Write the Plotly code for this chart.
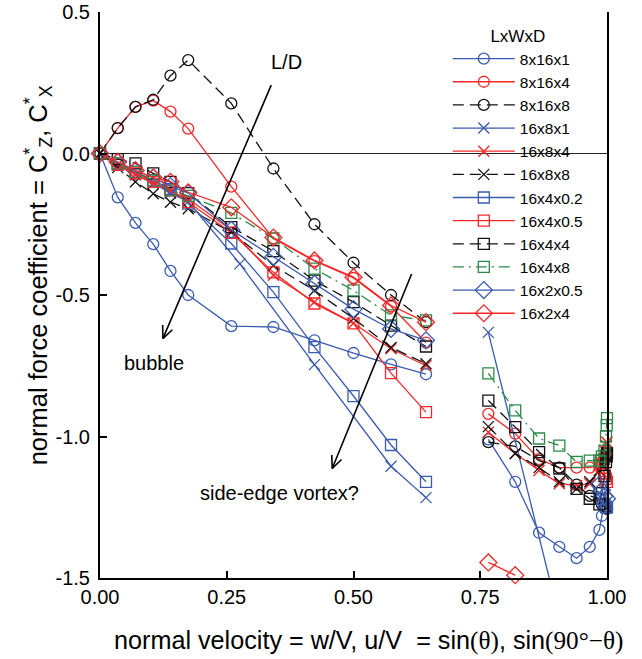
import math
import plotly.graph_objects as go

# ---------------- data ----------------
X_LEFT = [0, 0.035, 0.070, 0.105, 0.139, 0.174, 0.259, 0.342, 0.423, 0.500, 0.574, 0.643]
X_RIGHT = [0.766, 0.819, 0.866, 0.906, 0.940, 0.966, 0.985, 0.990, 0.995, 0.998, 0.9994, 1.0]
X_RIGHT_END = [0.985, 0.990, 0.995, 0.998, 1.0]

Y_8x16x1_L = [0, -0.155, -0.245, -0.32, -0.415, -0.50, -0.61, -0.613, -0.66, -0.705, -0.745, -0.78]
Y_8x16x1_R = [-1.01, -1.16, -1.34, -1.39, -1.43, -1.39, -1.33, -1.28, -1.25, -1.24, -1.25, -1.25]

Y_8x16x4_L = [0, 0.09, 0.165, 0.187, 0.148, 0.088, -0.117, -0.30, -0.38, -0.44, -0.54, -0.668]
Y_8x16x4_R = [-0.92, -0.99, -1.08, -1.11, -1.11, -1.11, -1.10, -1.09, -1.08, -1.07, -1.06, -1.05]

Y_8x16x8_L = [0, 0.09, 0.165, 0.19, 0.275, 0.33, 0.177, -0.053, -0.25, -0.386, -0.50, -0.596]
Y_8x16x8_R = [-1.02, -1.035, -1.085, -1.11, -1.17, -1.21, -1.22, -1.24, -1.25, -1.25, -1.255, -1.255]

X_16x8x1_L = [0, 0.035, 0.070, 0.105, 0.139, 0.174, 0.276, 0.423, 0.574, 0.643]
Y_16x8x1_L = [0, -0.04, -0.075, -0.105, -0.14, -0.17, -0.39, -0.746, -1.105, -1.216]
X_16x8x1_R = [0.766, 0.940]
Y_16x8x1_R = [-0.632, -1.89]

Y_16x8x4_L = [0, -0.04, -0.075, -0.105, -0.135, -0.16, -0.27, -0.43, -0.525, -0.60, -0.69, -0.75]
Y_16x8x4_R = [-0.985, -1.06, -1.12, -1.167, -1.173, -1.167, -1.12, -1.08, -1.05, -1.03, -1.02, -1.02]

Y_16x8x8_L = [0, -0.05, -0.10, -0.142, -0.172, -0.195, -0.278, -0.396, -0.484, -0.583, -0.685, -0.743]
Y_16x8x8_R = [-0.965, -1.06, -1.11, -1.16, -1.185, -1.16, -1.12, -1.10, -1.08, -1.07, -1.06, -1.06]

Y_16x4x02_L = [0, -0.035, -0.065, -0.095, -0.125, -0.177, -0.318, -0.49, -0.684, -0.857, -1.03, -1.16]
Y_16x4x02_R = [-1.20, -1.22, -1.24, -1.25, -1.25]

Y_16x4x05_L = [0, -0.04, -0.07, -0.10, -0.13, -0.172, -0.28, -0.42, -0.53, -0.60, -0.776, -0.914]
Y_16x4x05_R = [-1.10, -1.11, -1.13, -1.15, -1.16]

Y_16x4x4_L = [0, -0.02, -0.035, -0.07, -0.10, -0.14, -0.26, -0.345, -0.449, -0.525, -0.608, -0.682]
Y_16x4x4_R = [-0.873, -0.967, -1.055, -1.113, -1.185, -1.22, -1.24, -1.20, -1.14, -1.09, -1.07, -1.06]

Y_16x4x8_L = [0, -0.035, -0.065, -0.095, -0.13, -0.15, -0.21, -0.30, -0.407, -0.484, -0.572, -0.59]
Y_16x4x8_R = [-0.777, -0.908, -1.007, -1.032, -1.09, -1.085, -1.085, -1.07, -1.05, -1.0, -0.96, -0.935]

Y_16x2x05_L = [0, -0.03, -0.06, -0.085, -0.115, -0.14, -0.27, -0.365, -0.46, -0.55, -0.62, -0.66]
X_16x2x05_R = [0.985, 0.990, 0.995, 1.0]
Y_16x2x05_R = [-1.17, -1.19, -1.21, -1.22]

Y_16x2x4_L = [0, -0.03, -0.06, -0.085, -0.10, -0.137, -0.19, -0.297, -0.378, -0.437, -0.537, -0.596]
X_16x2x4_R = [0.766, 0.819]
Y_16x2x4_R = [-1.445, -1.49]

X_TICKS = [0, 0.25, 0.5, 0.75, 1.0]
X_TICK_TEXT = ["0.00", "0.25", "0.50", "0.75", "1.00"]
Y_TICKS = [0.5, 0.0, -0.5, -1.0, -1.5]
Y_TICK_TEXT = ["0.5", "0.0", "-0.5", "-1.0", "-1.5"]

# ---------------- styles ----------------
BLUE = "#3a5bb0"
RED = "#f5282a"
BLACK = "#111111"
GREEN = "#2b8a48"
DASH = "11px,6px"
DASHDOT = "11px,5px,2px,5px"

series = [
    ("8x16x1", BLUE, "circle-open", "solid", X_LEFT, Y_8x16x1_L, X_RIGHT, Y_8x16x1_R, False),
    ("8x16x4", RED, "circle-open", "solid", X_LEFT, Y_8x16x4_L, X_RIGHT, Y_8x16x4_R, False),
    ("8x16x8", BLACK, "circle-open", DASH, X_LEFT, Y_8x16x8_L, X_RIGHT, Y_8x16x8_R, False),
    ("16x8x1", BLUE, "x-thin-open", "solid", X_16x8x1_L, Y_16x8x1_L, X_16x8x1_R, Y_16x8x1_R, True),
    ("16x8x4", RED, "x-thin-open", "solid", X_LEFT, Y_16x8x4_L, X_RIGHT, Y_16x8x4_R, False),
    ("16x8x8", BLACK, "x-thin-open", DASH, X_LEFT, Y_16x8x8_L, X_RIGHT, Y_16x8x8_R, False),
    ("16x4x0.2", BLUE, "square-open", "solid", X_LEFT, Y_16x4x02_L, X_RIGHT_END, Y_16x4x02_R, False),
    ("16x4x0.5", RED, "square-open", "solid", X_LEFT, Y_16x4x05_L, X_RIGHT_END, Y_16x4x05_R, False),
    ("16x4x4", BLACK, "square-open", DASH, X_LEFT, Y_16x4x4_L, X_RIGHT, Y_16x4x4_R, False),
    ("16x4x8", GREEN, "square-open", DASHDOT, X_LEFT, Y_16x4x8_L, X_RIGHT, Y_16x4x8_R, False),
    ("16x2x0.5", BLUE, "diamond-open", "solid", X_LEFT, Y_16x2x05_L, X_16x2x05_R, Y_16x2x05_R, False),
    ("16x2x4", RED, "diamond-open", "solid", X_LEFT, Y_16x2x4_L, X_16x2x4_R, Y_16x2x4_R, False),
]

fig = go.Figure()
for name, color, sym, dash, xl, yl, xr, yr, clip in series:
    size = 13 if sym.startswith("diamond") else 11
    fig.add_trace(go.Scatter(
        x=list(xl) + [None] + list(xr),
        y=list(yl) + [None] + list(yr),
        name=name, mode="lines+markers", connectgaps=False, cliponaxis=clip,
        line=dict(color=color, width=1.3, dash=dash),
        marker=dict(symbol=sym, size=size, color=color, line=dict(color=color, width=1.3)),
    ))

FONT = "Liberation Sans, Arial, sans-serif"
SERIF = "Liberation Serif"

annotations = []


def arrow(tip_x, tip_y, dx, dy):
    annotations.append(dict(x=tip_x, y=tip_y, xref="x", yref="y", ax=dx, ay=dy,
                            text="", showarrow=True, arrowhead=0, arrowwidth=1.6,
                            arrowcolor="black", standoff=0, startstandoff=0))
    L = math.hypot(dx, dy)
    ux, uy = dx / L, dy / L
    for ang in (24, -24):
        r = math.radians(ang)
        hx = ux * math.cos(r) - uy * math.sin(r)
        hy = ux * math.sin(r) + uy * math.cos(r)
        annotations.append(dict(x=tip_x, y=tip_y, xref="x", yref="y", ax=hx * 15, ay=hy * 15,
                                text="", showarrow=True, arrowhead=0, arrowwidth=1.6,
                                arrowcolor="black", standoff=0, startstandoff=0))


arrow(0.124, -0.654, 109, -255)
arrow(0.458, -1.113, 80, -196)

for txt, x, y in [("L/D", 0.367, 0.322), ("bubble", 0.107, -0.742), ("side-edge vortex?", 0.355, -1.198)]:
    annotations.append(dict(x=x, y=y, xref="x", yref="y", text=txt, showarrow=False,
                            font=dict(family=FONT, size=20, color="black")))

annotations.append(dict(
    x=-0.122, y=0.535, xref="paper", yref="paper", textangle=-90, showarrow=False,
    text="normal force coefficient = C<sup>*</sup><sub>Z</sub>, C<sup>*</sup><sub>X</sub>",
    font=dict(family=FONT, size=25.5, color="black"), xanchor="center", yanchor="middle"))
annotations.append(dict(
    x=0.53, y=-0.11, xref="paper", yref="paper", showarrow=False,
    text=("normal velocity = w/V, u/V \u00a0= sin<span style='font-family:" + SERIF + "'>(θ)</span>, sin"
          "<span style='font-family:" + SERIF + "'>(90°−θ)</span>"),
    font=dict(family=FONT, size=25.2, color="black"), xanchor="center", yanchor="middle"))

fig.update_layout(
    width=642, height=659,
    margin=dict(l=100, r=35, t=12, b=81, autoexpand=False),
    paper_bgcolor="white", plot_bgcolor="white",
    font=dict(family=FONT, size=20, color="black"),
    showlegend=True,
    legend=dict(x=0.686, y=0.986, xanchor="left", yanchor="top", bgcolor="rgba(0,0,0,0)",
                font=dict(family=FONT, size=15.5), itemwidth=62, tracegroupgap=0,
                title=dict(text="LxWxD", side="top center", font=dict(family=FONT, size=17))),
    annotations=annotations,
)
fig.update_xaxes(range=[0, 1], tickvals=X_TICKS, ticktext=X_TICK_TEXT, ticks="inside", ticklen=7,
                 tickwidth=1.5, tickcolor="black", showline=True, linewidth=2, linecolor="black",
                 showgrid=False, zeroline=False, mirror=False, ticklabelstandoff=0)
fig.update_yaxes(range=[-1.5, 0.5], tickvals=Y_TICKS, ticktext=Y_TICK_TEXT, ticks="inside", ticklen=7,
                 tickwidth=1.5, tickcolor="black", showline=True, linewidth=2, linecolor="black",
                 mirror=True, showgrid=False, zeroline=True, zerolinecolor="#222222", zerolinewidth=1.2,
                 ticklabelstandoff=4)

fig.write_html("out.html")
